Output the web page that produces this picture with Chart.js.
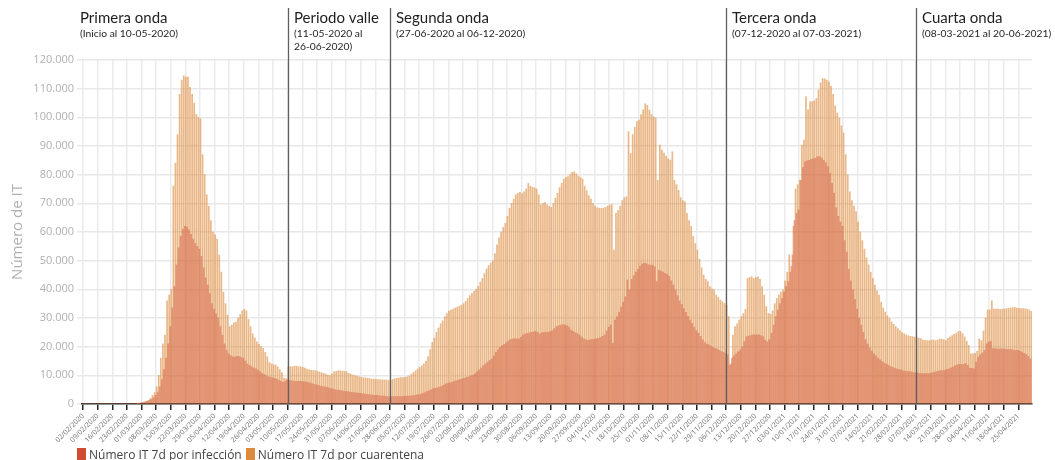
<!DOCTYPE html>
<html lang="es">
<head>
<meta charset="utf-8">
<title>Número de IT</title>
<script src="https://cdn.jsdelivr.net/npm/chart.js@4.4.1/dist/chart.umd.min.js"></script>
<style>
  html, body { margin: 0; padding: 0; background: #fff; overflow: hidden; }
  #wrap { position: relative; width: 1055px; height: 460px; }
  #box { position: absolute; left: 0; top: 0; width: 1055px; height: 448px; }
  #legend { position: absolute; left: 77px; top: 448px; font: 12px "Open Sans", sans-serif; color: #444; white-space: nowrap; line-height: 14px; }
  #legend .sw { display: inline-block; width: 9px; height: 14px; vertical-align: top; margin-right: 3px; }
  #legend .it { margin-right: 4px; }
</style>
</head>
<body>
<div id="wrap">
  <div id="box"><canvas id="itChart"></canvas></div>
  <div id="legend"></div>
</div>
<script>
// una categoría por día, del 02/02/2020 al 01/05/2021 (65 semanas)
const startDay = Date.UTC(2020, 1, 2);
const nDays = 455;
const dayLabels = [];
for (let i = 0; i < nDays; i++) {
  const d = new Date(startDay + i * 86400000);
  dayLabels.push(String(d.getUTCDate()).padStart(2, '0') + '/' +
    String(d.getUTCMonth() + 1).padStart(2, '0') + '/' + d.getUTCFullYear());
}

// valores en miles, una fila por semana (empieza en domingo)
const infPrimera = [
  0, 0, 0, 0, 0, 0, 0,                      // 02/02
  0, 0, 0, 0, 0, 0, 0,                      // 09/02
  0, 0, 0, 0, 0, 0, 0,                      // 16/02
  0, 0, 0, 0, 0, 0.1, 0.2,                  // 23/02
  0.4, 0.5, 0.7, 0.9, 1.2, 1.6, 2.2,        // 01/03
  3.0, 4.2, 6.0, 8.5, 12.0, 16.0, 21.0,     // 08/03
  27.0, 33.5, 41.0, 48.5, 54.5, 58.5, 61.0, // 15/03
  62.0, 61.8, 60.8, 59.2, 57.5, 56.0, 55.0, // 22/03
  54.0, 51.5, 47.5, 44.0, 41.5, 38.5, 35.0, // 29/03
  33.0, 31.5, 30.0, 27.0, 24.0, 21.0, 18.8, // 05/04
  17.5, 16.8, 16.5, 16.4, 16.6, 16.5, 16.3, // 12/04
  16.0, 15.0, 14.0, 13.4, 13.0, 12.6, 12.3, // 19/04
  11.8, 11.2, 10.7, 10.3, 9.9, 9.5, 9.3,    // 26/04
  9.1, 9.0, 8.7, 8.3, 7.9, 7.6, 7.8         // 03/05
];
const infValle = [
  8.4, 8.3, 8.1, 8.0, 7.9, 7.9, 7.9,        // 10/05
  7.9, 7.8, 7.7, 7.5, 7.3, 7.1, 6.9,        // 17/05
  6.7, 6.5, 6.3, 6.1, 6.0, 5.8, 5.6,        // 24/05
  5.4, 5.2, 5.0, 4.9, 4.8, 4.7, 4.5,        // 31/05
  4.4, 4.3, 4.2, 4.1, 4.0, 3.9, 3.8,        // 07/06
  3.7, 3.6, 3.5, 3.4, 3.3, 3.2, 3.1,        // 14/06
  3.0, 3.0, 2.9, 2.8, 2.8, 2.7, 2.6         // 21/06
];
const infSegunda = [
  2.6, 2.6, 2.6, 2.6, 2.6, 2.6, 2.6,        // 28/06
  2.7, 2.7, 2.8, 2.8, 2.9, 3.0, 3.2,        // 05/07
  3.2, 3.4, 3.7, 4.0, 4.3, 4.6, 5.0,        // 12/07
  5.3, 5.5, 5.7, 5.9, 6.2, 6.6, 7.0,        // 19/07
  7.2, 7.4, 7.6, 7.9, 8.1, 8.4, 8.6,        // 26/07
  8.8, 9.0, 9.3, 9.5, 9.8, 10.1, 10.6,      // 02/08
  11.2, 11.9, 12.6, 13.4, 14.0, 14.6, 15.2, // 09/08
  15.7, 16.8, 18.0, 19.0, 19.8, 20.4, 20.8, // 16/08
  21.4, 22.0, 22.5, 22.7, 22.8, 22.7, 22.7, // 23/08
  23.3, 24.0, 24.4, 24.6, 24.8, 25.0, 25.1, // 30/08
  25.3, 25.0, 24.4, 24.8, 25.0, 25.0, 25.0, // 06/09
  25.3, 25.6, 26.3, 27.0, 27.3, 27.5, 27.7, // 13/09
  27.6, 27.3, 26.8, 25.8, 25.3, 24.9, 24.6, // 20/09
  24.0, 23.4, 22.8, 22.5, 22.2, 22.4, 22.6, // 27/09
  22.6, 22.7, 22.9, 23.2, 23.6, 24.1, 25.5, // 04/10
  26.8, 27.6, 21.2, 29.3, 30.5, 32.0, 33.8, // 11/10
  35.5, 37.4, 43.3, 39.8, 43.5, 44.8, 46.0, // 18/10
  47.0, 48.0, 48.8, 49.1, 49.0, 48.6, 48.5, // 25/10
  48.4, 47.9, 42.7, 46.7, 46.4, 46.0, 45.6, // 01/11
  45.2, 44.5, 43.0, 41.5, 39.8, 37.8, 36.0, // 08/11
  34.7, 33.3, 32.0, 30.6, 29.3, 28.1, 26.8, // 15/11
  25.6, 24.7, 23.6, 22.4, 21.5, 20.9, 20.6, // 22/11
  20.2, 19.8, 19.4, 19.2, 18.8, 18.3, 18.0  // 29/11
];
const infTercera = [
  17.7, 17.2, 13.6, 16.0, 16.8, 17.5, 18.2, // 06/12
  18.8, 20.0, 21.8, 23.5, 23.7, 23.9, 24.1, // 13/12
  24.1, 24.1, 24.1, 23.9, 23.5, 22.3, 21.7, // 20/12
  22.5, 24.7, 27.5, 30.5, 32.8, 35.0, 36.9, // 27/12
  39.0, 41.0, 42.7, 46.0, 52.0, 64.0, 66.5, // 03/01
  67.7, 78.0, 82.5, 84.5, 84.8, 85.0, 85.3, // 10/01
  85.5, 85.7, 86.2, 86.4, 85.8, 85.0, 84.2, // 17/01
  82.8, 80.5, 77.0, 73.5, 68.5, 65.5, 63.5, // 24/01
  62.0, 57.0, 53.0, 47.0, 43.0, 39.8, 36.5, // 31/01
  33.0, 30.0, 27.5, 25.0, 22.5, 21.0, 19.6, // 07/02
  18.5, 17.5, 16.8, 16.0, 15.4, 14.8, 14.3, // 14/02
  13.9, 13.5, 13.1, 12.8, 12.5, 12.2, 12.0, // 21/02
  11.8, 11.6, 11.5, 11.4, 11.3, 11.2, 11.0  // 28/02
];
const infCuarta = [
  10.9, 10.8, 10.7, 10.6, 10.6, 10.6, 10.6, // 07/03
  10.7, 10.9, 11.1, 11.3, 11.5, 11.6, 11.7, // 14/03
  11.8, 12.0, 12.3, 12.6, 12.9, 13.4, 13.7, // 21/03
  13.8, 13.8, 13.9, 14.1, 13.5, 12.5, 12.4, // 28/03
  12.3, 14.6, 16.4, 17.2, 17.8, 18.7, 21.0, // 04/04
  21.6, 21.8, 19.3, 19.3, 19.2, 19.2, 19.2, // 11/04
  19.2, 19.1, 19.1, 19.0, 19.0, 18.8, 18.7, // 18/04
  18.7, 18.4, 18.1, 17.7, 17.3, 16.6, 15.8  // 25/04
];

const cuaPrimera = [
  0, 0, 0, 0, 0, 0, 0,                            // 02/02
  0, 0, 0, 0, 0, 0, 0,                            // 09/02
  0, 0, 0, 0, 0, 0, 0,                            // 16/02
  0, 0, 0, 0, 0, 0.1, 0.3,                        // 23/02
  0.5, 0.7, 1.0, 1.3, 2.0, 3.0, 4.0,              // 01/03
  6.0, 10.0, 16.0, 21.0, 24.0, 36.0, 38.0,        // 08/03
  40.0, 76.0, 84.0, 94.0, 108.0, 113.0, 114.5,    // 15/03
  114.0, 114.0, 110.5, 108.0, 105.0, 101.0, 100.0, // 22/03
  99.5, 87.0, 80.0, 73.0, 69.0, 64.0, 60.0,       // 29/03
  59.0, 57.5, 52.0, 46.0, 39.0, 35.0, 31.0,       // 05/04
  27.0, 27.5, 28.3, 28.6, 30.0, 31.2, 32.5,       // 12/04
  33.0, 32.5, 29.5, 27.0, 24.5, 23.0, 21.7,       // 19/04
  20.8, 20.0, 19.4, 18.0, 16.5, 14.5, 14.0,       // 26/04
  13.8, 13.6, 13.0, 12.0, 11.0, 9.0, 8.8          // 03/05
];
const cuaValle = [
  12.8, 13.0, 13.0, 13.2, 13.2, 13.0, 13.0,       // 10/05
  12.8, 12.5, 12.2, 11.9, 11.8, 11.7, 11.6,       // 17/05
  11.4, 11.1, 10.9, 10.7, 10.4, 10.1, 9.9,        // 24/05
  10.5, 11.2, 11.4, 11.6, 11.6, 11.5, 11.4,       // 31/05
  11.3, 10.7, 10.4, 10.1, 9.9, 9.7, 9.5,          // 07/06
  9.4, 9.2, 9.1, 9.0, 8.9, 8.7, 8.7,              // 14/06
  8.6, 8.5, 8.5, 8.4, 8.4, 8.4, 8.2               // 21/06
];
const cuaSegunda = [
  8.1, 8.6, 8.8, 9.0, 9.1, 9.2, 9.2,              // 28/06
  9.3, 9.5, 9.8, 10.4, 11.0, 11.6, 12.2,          // 05/07
  12.8, 13.3, 14.0, 15.0, 16.5, 19.0, 21.5,       // 12/07
  23.0, 25.0, 26.5, 28.0, 29.0, 30.5, 31.5,       // 19/07
  32.4, 32.8, 33.1, 33.5, 33.8, 34.1, 34.5,       // 26/07
  35.0, 35.8, 36.8, 37.8, 38.5, 39.3, 40.1,       // 02/08
  41.0, 42.5, 43.8, 45.5, 47.1, 48.3, 49.2,       // 09/08
  50.0, 52.5, 55.5, 58.0, 60.0, 61.6, 63.0,       // 16/08
  65.5, 68.3, 70.0, 71.5, 73.0, 73.5, 73.8,       // 23/08
  73.3, 74.0, 75.0, 77.0, 76.0, 75.6, 75.4,       // 30/08
  75.0, 73.0, 69.5, 70.0, 70.3, 69.5, 69.0,       // 06/09
  68.6, 70.0, 71.8, 73.5, 75.5, 77.0, 78.5,       // 13/09
  79.0, 79.3, 80.0, 80.8, 81.0, 80.3, 79.5,       // 20/09
  79.0, 78.5, 76.0, 74.4, 72.7, 71.5, 70.0,       // 27/09
  69.0, 68.5, 68.3, 68.3, 68.3, 68.6, 69.0,       // 04/10
  69.4, 69.6, 53.7, 66.5, 67.5, 69.0, 71.0,       // 11/10
  72.0, 72.3, 95.0, 87.4, 94.0, 96.5, 98.5,       // 18/10
  99.0, 101.0, 102.6, 104.7, 104.2, 102.5, 101.0, // 25/10
  100.2, 99.7, 78.0, 90.3, 88.6, 87.5, 86.5,      // 01/11
  85.5, 85.1, 88.0, 78.0, 76.5, 74.5, 72.0,       // 08/11
  71.0, 70.5, 66.5, 64.0, 62.0, 58.5, 56.0,       // 15/11
  53.7, 50.5, 47.5, 45.0, 43.5, 42.7, 41.0,       // 22/11
  40.2, 39.8, 38.0, 37.2, 36.3, 35.7, 35.1        // 29/11
];
const cuaTercera = [
  34.5, 30.5, 14.0, 24.0, 27.0, 28.0, 29.3,       // 06/12
  30.5, 31.5, 33.0, 43.8, 44.2, 44.4, 43.8,       // 13/12
  44.2, 44.4, 43.5, 41.0, 38.0, 34.0, 31.6,       // 20/12
  31.3, 32.5, 35.0, 36.8, 38.0, 39.0, 39.8,       // 27/12
  43.0, 46.0, 52.0, 48.0, 62.0, 75.0, 76.5,       // 03/01
  78.1, 90.3, 92.1, 107.2, 102.6, 105.5, 105.5,   // 10/01
  105.8, 106.5, 109.5, 112.0, 113.5, 113.4, 113.0, // 17/01
  112.4, 110.8, 108.0, 104.0, 101.5, 99.7, 97.0,  // 24/01
  94.5, 87.0, 80.0, 74.0, 71.0, 69.0, 67.1,       // 31/01
  63.5, 60.0, 57.0, 54.0, 51.0, 48.5, 46.0,       // 07/02
  43.8, 41.5, 39.5, 38.0, 35.5, 33.5, 32.0,       // 14/02
  30.8, 29.9, 28.6, 27.8, 27.0, 26.3, 25.6,       // 21/02
  24.9, 24.5, 24.1, 23.8, 23.6, 23.5, 23.3        // 28/02
];
const cuaCuarta = [
  23.1, 23.0, 22.8, 22.4, 22.2, 22.1, 22.1,       // 07/03
  22.3, 22.4, 22.1, 22.3, 22.7, 22.6, 22.5,       // 14/03
  22.1, 22.9, 23.4, 23.9, 24.3, 24.7, 25.3,       // 21/03
  25.3, 24.5, 23.4, 21.9, 20.4, 17.5, 17.5,       // 28/03
  17.7, 18.4, 22.7, 22.1, 25.5, 30.0, 32.8,       // 04/04
  32.8, 36.0, 33.1, 33.1, 33.1, 33.0, 33.1,       // 11/04
  33.1, 33.3, 33.4, 33.5, 33.6, 33.7, 33.5,       // 18/04
  33.4, 33.3, 33.3, 33.2, 33.1, 32.8, 32.3        // 25/04
];

const infeccion = [...infPrimera, ...infValle, ...infSegunda, ...infTercera, ...infCuarta].map(v => Math.round(v * 1000));
const cuarentena = [...cuaPrimera, ...cuaValle, ...cuaSegunda, ...cuaTercera, ...cuaCuarta].map(v => Math.round(v * 1000));

// olas: índice del día en que empieza cada tramo
const waveStart = [0, 98, 147, 308, 399];
const waveTitles = ['Primera onda', 'Periodo valle', 'Segunda onda', 'Tercera onda', 'Cuarta onda'];
const waveNotes = [
  ['(Inicio al 10-05-2020)'],
  ['(11-05-2020 al', '26-06-2020)'],
  ['(27-06-2020 al 06-12-2020)'],
  ['(07-12-2020 al 07-03-2021)'],
  ['(08-03-2021 al 20-06-2021)']
];

const seriesNames = ['Número IT 7d por infección', 'Número IT 7d por cuarentena'];
const seriesColors = ['#d04a34', '#dc8a3c'];

const wavePlugin = {
  id: 'waves',
  afterDatasetsDraw(chart) {
    const { ctx, chartArea, scales: { x } } = chart;
    ctx.save();
    waveStart.forEach((idx, k) => {
      let tx;
      if (k === 0) {
        tx = chartArea.left - 2;
      } else {
        const px = Math.round(x.getPixelForValue(idx)) + 0.5;
        ctx.strokeStyle = '#5f5f5f';
        ctx.lineWidth = 1.3;
        ctx.beginPath();
        ctx.moveTo(px, 8);
        ctx.lineTo(px, chartArea.bottom);
        ctx.stroke();
        tx = px + 5.5;
      }
      ctx.fillStyle = '#1e1e1e';
      ctx.textBaseline = 'alphabetic';
      ctx.font = '15px Lato, sans-serif';
      ctx.fillText(waveTitles[k], tx, 23);
      ctx.font = '10.3px Lato, sans-serif';
      waveNotes[k].forEach((t, j) => ctx.fillText(t, tx, 37 + j * 13));
    });
    ctx.restore();
  }
};

const fmt = v => String(v).replace(/\B(?=(\d{3})+(?!\d))/g, '.');

new Chart(document.getElementById('itChart'), {
  type: 'bar',
  data: {
    labels: dayLabels,
    datasets: [{
      label: seriesNames[0],
      data: infeccion,
      backgroundColor: 'rgba(208, 74, 52, 0.47)',
      borderWidth: 0,
      categoryPercentage: 1,
      barPercentage: 1
    }, {
      label: seriesNames[1],
      data: cuarentena,
      backgroundColor: 'rgba(221, 138, 62, 0.62)',
      borderWidth: 0,
      categoryPercentage: 1,
      barPercentage: 1
    }]
  },
  options: {
    responsive: true,
    maintainAspectRatio: false,
    animation: false,
    layout: { padding: { top: 60, right: 23, bottom: 0, left: 0 } },
    plugins: {
      legend: { display: false }
    },
    scales: {
      x: {
        offset: true,
        grid: { offset: false, color: '#ebebeb', lineWidth: 1.5, tickColor: '#222', tickLength: 6, tickWidth: 1.5 },
        border: { color: '#333', width: 1.5 },
        ticks: {
          autoSkip: false, maxRotation: 45, minRotation: 45, padding: 2,
          color: '#707070', font: { family: 'Open Sans', size: 7 }
        },
        afterBuildTicks: s => { s.ticks = s.ticks.filter(t => t.value % 7 === 0); },
        afterFit: s => { s.height = 44; }
      },
      y: {
        min: 0,
        max: 120000,
        ticks: {
          stepSize: 10000, padding: 3, color: '#b0b0b0',
          font: { family: 'Open Sans', size: 11 },
          callback: v => fmt(v)
        },
        grid: { color: '#e8e8e8', lineWidth: 1.5, tickLength: 5 },
        border: { display: false },
        title: {
          display: true, text: 'Número de IT', color: '#b0b0b0',
          font: { family: 'Open Sans', size: 15 },
          padding: { top: 9, bottom: 0 }
        },
        afterFit: s => { s.width = 82; }
      }
    }
  },
  plugins: [wavePlugin]
});

const legend = document.getElementById('legend');
seriesNames.forEach((name, i) => {
  const sw = document.createElement('span');
  sw.className = 'sw';
  sw.style.background = seriesColors[i];
  const it = document.createElement('span');
  it.className = 'it';
  it.textContent = name;
  legend.appendChild(sw);
  legend.appendChild(it);
});
</script>
</body>
</html>
